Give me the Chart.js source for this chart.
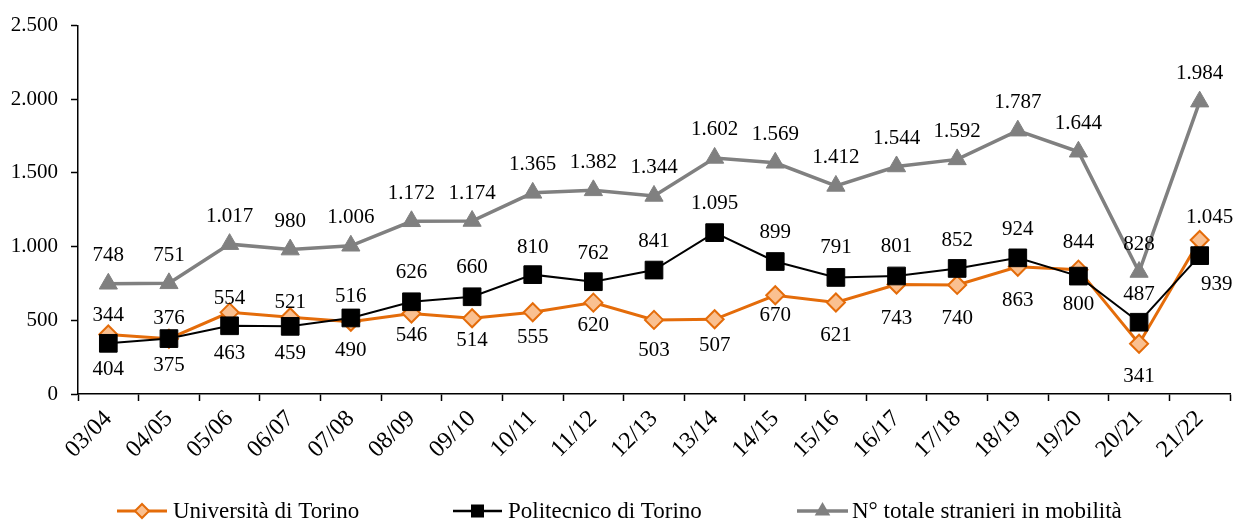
<!DOCTYPE html>
<html lang="it">
<head>
<meta charset="utf-8">
<title>Studenti stranieri in mobilità - Torino</title>
<script src="https://cdn.jsdelivr.net/npm/chart.js@4/dist/chart.umd.min.js"></script>
<style>
  html, body { margin: 0; padding: 0; background: #fff; }
  #wrap { position: relative; width: 1234px; height: 522px; }
</style>
</head>
<body>
<div id="wrap"><canvas id="mobilita"></canvas></div>
<script>
// anni accademici
const SEASONS = ["03/04", "04/05", "05/06", "06/07", "07/08", "08/09", "09/10", "10/11", "11/12",
  "12/13", "13/14", "14/15", "15/16", "16/17", "17/18", "18/19", "19/20", "20/21", "21/22"];

const UNITO = [404, 375, 554, 521, 490, 546, 514, 555, 620, 503, 507, 670, 621, 743, 740, 863, 844, 341, 1045];
const POLITO = [344, 376, 463, 459, 516, 626, 660, 810, 762, 841, 1095, 899, 791, 801, 852, 924, 800, 487, 939];
const TOTALE = [748, 751, 1017, 980, 1006, 1172, 1174, 1365, 1382, 1344, 1602, 1569, 1412, 1544, 1592, 1787, 1644, 828, 1984];

const Y_TICKS = [0, 500, 1000, 1500, 2000, 2500];

const SERIES_NAMES = ["Università di Torino", "Politecnico di Torino", "N° totale stranieri in mobilità"];

// spostamento verticale delle etichette rispetto al marker (px)
const UNITO_DY = [35, 27, -14, -15, 29, 22, 22, 25, 23, 31, 26, 20, 33, 34, 34, 34, -27, 33, -23];
const POLITO_DY = [-28, -20, 28, 27, -21, -29, -29, -27, -28, -29, -29, -29, -30, -29, -28, -28, 28, -28, 29];
const TOTALE_DY = TOTALE.map(() => -28);
const LAST_DX = { unito: 10, polito: 17 };

const COLORS = {
  orange: "#E46C0A",
  peach: "#FAC090",
  black: "#000000",
  gray: "#808080",
};

const SERIF = "'Liberation Serif', 'Times New Roman', serif";

function fmt(n) {
  return String(n).replace(/\B(?=(\d{3})+(?!\d))/g, ".");
}

const valueLabels = {
  id: "valueLabels",
  afterDatasetsDraw(chart) {
    const ctx = chart.ctx;
    ctx.save();
    ctx.font = "21px " + SERIF;
    ctx.fillStyle = "#000";
    ctx.textAlign = "center";
    ctx.textBaseline = "middle";
    chart.data.datasets.forEach((ds, i) => {
      const meta = chart.getDatasetMeta(i);
      const last = ds.data.length - 1;
      meta.data.forEach((pt, j) => {
        const dx = j === last ? (ds.lastDx || 0) : 0;
        ctx.fillText(fmt(ds.data[j]), pt.x + dx, pt.y + ds.labelDy[j]);
      });
    });
    ctx.restore();
  },
};

function legendMarker(ctx, kind, x, y) {
  ctx.beginPath();
  if (kind === "diamond") {
    const r = 7;
    ctx.moveTo(x - r, y);
    ctx.lineTo(x, y - r);
    ctx.lineTo(x + r, y);
    ctx.lineTo(x, y + r);
    ctx.closePath();
    ctx.fillStyle = COLORS.peach;
    ctx.strokeStyle = COLORS.orange;
    ctx.lineWidth = 2;
    ctx.fill();
    ctx.stroke();
  } else if (kind === "square") {
    ctx.fillStyle = COLORS.black;
    ctx.fillRect(x - 6.5, y - 6.5, 13, 13);
  } else {
    const r = 9;
    ctx.moveTo(x, y - r);
    ctx.lineTo(x + r * 0.866, y + r / 2);
    ctx.lineTo(x - r * 0.866, y + r / 2);
    ctx.closePath();
    ctx.fillStyle = COLORS.gray;
    ctx.fill();
  }
}

const bottomLegend = {
  id: "bottomLegend",
  afterDraw(chart) {
    const ctx = chart.ctx;
    const y = 511;
    const items = [
      { x0: 117, x1: 167, color: COLORS.orange, width: 3, kind: "diamond", tx: 173 },
      { x0: 453, x1: 502, color: COLORS.black, width: 2.5, kind: "square", tx: 508 },
      { x0: 797, x1: 848, color: COLORS.gray, width: 3.5, kind: "triangle", tx: 852 },
    ];
    ctx.save();
    items.forEach((it, i) => {
      ctx.beginPath();
      ctx.moveTo(it.x0, y);
      ctx.lineTo(it.x1, y);
      ctx.strokeStyle = it.color;
      ctx.lineWidth = it.width;
      ctx.stroke();
      legendMarker(ctx, it.kind, (it.x0 + it.x1) / 2, y);
      ctx.font = "23px " + SERIF;
      ctx.fillStyle = "#000";
      ctx.textAlign = "left";
      ctx.textBaseline = "middle";
      ctx.fillText(SERIES_NAMES[i], it.tx, y + 1);
    });
    ctx.restore();
  },
};

new Chart(document.getElementById("mobilita"), {
  type: "line",
  data: {
    labels: SEASONS,
    datasets: [
      {
        label: SERIES_NAMES[0],
        data: UNITO,
        labelDy: UNITO_DY,
        lastDx: LAST_DX.unito,
        order: 1,
        borderColor: COLORS.orange,
        borderWidth: 3,
        pointStyle: "rectRot",
        pointRadius: 9,
        pointBackgroundColor: COLORS.peach,
        pointBorderColor: COLORS.orange,
        pointBorderWidth: 2,
      },
      {
        label: SERIES_NAMES[1],
        data: POLITO,
        labelDy: POLITO_DY,
        lastDx: LAST_DX.polito,
        order: 0,
        borderColor: COLORS.black,
        borderWidth: 2,
        pointStyle: "rect",
        pointRadius: 12.5,
        pointBackgroundColor: COLORS.black,
        pointBorderColor: COLORS.black,
        pointBorderWidth: 1,
      },
      {
        label: SERIES_NAMES[2],
        data: TOTALE,
        labelDy: TOTALE_DY,
        order: 2,
        borderColor: COLORS.gray,
        borderWidth: 3.5,
        pointStyle: "triangle",
        pointRadius: 10.5,
        pointBackgroundColor: COLORS.gray,
        pointBorderColor: COLORS.gray,
        pointBorderWidth: 1,
      },
    ],
  },
  options: {
    responsive: true,
    maintainAspectRatio: false,
    animation: false,
    layout: { autoPadding: false, padding: { top: 24, right: 4, left: 0, bottom: 0 } },
    elements: { line: { tension: 0 } },
    plugins: {
      legend: { display: false },
      tooltip: { enabled: false },
    },
    scales: {
      x: {
        offset: true,
        border: { color: "#000", width: 1.5 },
        grid: { display: true, offset: true, drawOnChartArea: false, tickLength: 7, tickColor: "#000", tickWidth: 1.5 },
        ticks: {
          color: "#000",
          font: { family: SERIF, size: 24 },
          minRotation: 45,
          maxRotation: 45,
          padding: 4,
          autoSkip: false,
        },
        afterFit(scale) {
          scale.height = 128;
          scale.paddingLeft = 0;
          scale.paddingRight = 0;
        },
      },
      y: {
        min: Y_TICKS[0],
        max: Y_TICKS[Y_TICKS.length - 1],
        border: { color: "#000", width: 1.5 },
        grid: { display: true, drawOnChartArea: false, tickLength: 7, tickColor: "#000", tickWidth: 1.5 },
        afterBuildTicks(scale) { scale.ticks = Y_TICKS.map((v) => ({ value: v })); },
        ticks: {
          color: "#000",
          font: { family: SERIF, size: 21 },
          padding: 13,
          callback: (v) => fmt(v),
        },
        afterFit(scale) { scale.width = 78; },
      },
    },
  },
  plugins: [valueLabels, bottomLegend],
});
</script>
</body>
</html>
